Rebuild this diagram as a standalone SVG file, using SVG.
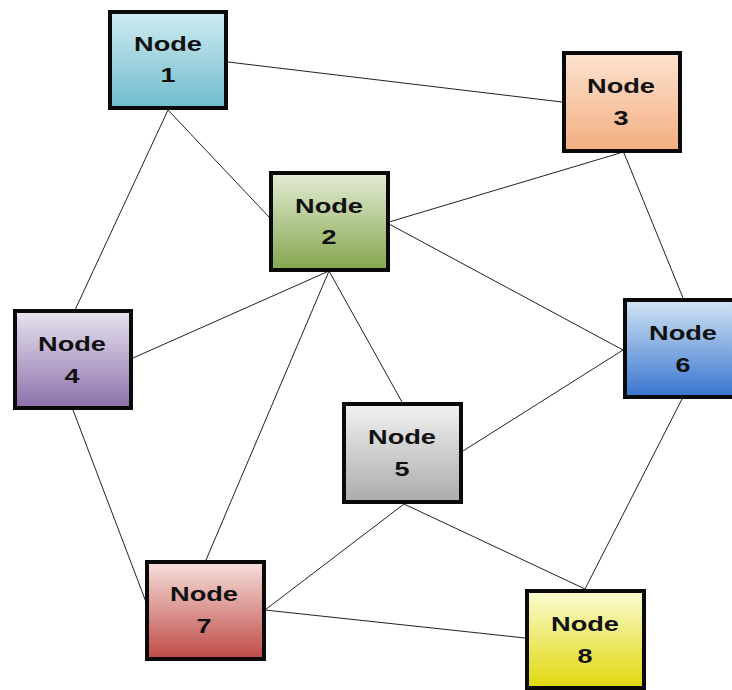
<svg xmlns="http://www.w3.org/2000/svg" width="732" height="690" viewBox="0 0 732 690">
<style>
.box{stroke:#0a0a0a;stroke-width:4}
.lbl{font-family:"Liberation Sans",Arial,sans-serif;font-weight:bold;font-size:21px;fill:#111;text-anchor:middle}
.edge line{stroke:#222;stroke-width:1}
</style>
<defs>
<linearGradient id="g1" x1="0" y1="0" x2="0" y2="1"><stop offset="0" stop-color="#d0ebf1"/><stop offset="1" stop-color="#6fbccd"/></linearGradient>
<linearGradient id="g2" x1="0" y1="0" x2="0" y2="1"><stop offset="0" stop-color="#e4ecd6"/><stop offset="1" stop-color="#84a64c"/></linearGradient>
<linearGradient id="g3" x1="0" y1="0" x2="0" y2="1"><stop offset="0" stop-color="#fde3d0"/><stop offset="1" stop-color="#f3ae80"/></linearGradient>
<linearGradient id="g4" x1="0" y1="0" x2="0" y2="1"><stop offset="0" stop-color="#e8e3f0"/><stop offset="1" stop-color="#8c70aa"/></linearGradient>
<linearGradient id="g5" x1="0" y1="0" x2="0" y2="1"><stop offset="0" stop-color="#f2f2f2"/><stop offset="1" stop-color="#ababab"/></linearGradient>
<linearGradient id="g6" x1="0" y1="0" x2="0" y2="1"><stop offset="0" stop-color="#d2e5f4"/><stop offset="1" stop-color="#3874cf"/></linearGradient>
<linearGradient id="g7" x1="0" y1="0" x2="0" y2="1"><stop offset="0" stop-color="#f6e0dc"/><stop offset="1" stop-color="#bf4a46"/></linearGradient>
<linearGradient id="g8" x1="0" y1="0" x2="0" y2="1"><stop offset="0" stop-color="#fbfbd2"/><stop offset="1" stop-color="#e0d80c"/></linearGradient>
</defs>
<rect width="732" height="690" fill="#fff"/>
<g id="edges" class="edge">
<line x1="228" y1="62" x2="562" y2="102"/>
<line x1="168" y1="110" x2="75" y2="310"/>
<line x1="168" y1="110" x2="270" y2="218"/>
<line x1="620" y1="153" x2="389" y2="222"/>
<line x1="624" y1="153" x2="683" y2="298"/>
<line x1="389" y1="224" x2="623" y2="350"/>
<line x1="329" y1="271" x2="133" y2="358"/>
<line x1="329" y1="271" x2="206" y2="560"/>
<line x1="329" y1="271" x2="402" y2="402"/>
<line x1="623" y1="350" x2="463" y2="451"/>
<line x1="682" y1="399" x2="585" y2="589"/>
<line x1="404" y1="504" x2="265" y2="610"/>
<line x1="404" y1="504" x2="585" y2="589"/>
<line x1="265" y1="610" x2="525" y2="638"/>
<line x1="73" y1="410" x2="146" y2="602"/>
</g>
<g id="node1"><rect class="box" x="110" y="12" width="116" height="96" fill="url(#g1)"/><text class="lbl" x="168" y="51" textLength="68" lengthAdjust="spacingAndGlyphs">Node</text><text class="lbl" x="168" y="82" textLength="15" lengthAdjust="spacingAndGlyphs">1</text></g>
<g id="node2"><rect class="box" x="271" y="173" width="117" height="97" fill="url(#g2)"/><text class="lbl" x="329" y="213" textLength="68" lengthAdjust="spacingAndGlyphs">Node</text><text class="lbl" x="329" y="244" textLength="15" lengthAdjust="spacingAndGlyphs">2</text></g>
<g id="node3"><rect class="box" x="564" y="53" width="116" height="98" fill="url(#g3)"/><text class="lbl" x="621" y="93" textLength="68" lengthAdjust="spacingAndGlyphs">Node</text><text class="lbl" x="621" y="125" textLength="15" lengthAdjust="spacingAndGlyphs">3</text></g>
<g id="node4"><rect class="box" x="15" y="311" width="116" height="97" fill="url(#g4)"/><text class="lbl" x="72" y="351" textLength="68" lengthAdjust="spacingAndGlyphs">Node</text><text class="lbl" x="72" y="383" textLength="15" lengthAdjust="spacingAndGlyphs">4</text></g>
<g id="node5"><rect class="box" x="344" y="404" width="117" height="98" fill="url(#g5)"/><text class="lbl" x="402" y="444" textLength="68" lengthAdjust="spacingAndGlyphs">Node</text><text class="lbl" x="402" y="476" textLength="15" lengthAdjust="spacingAndGlyphs">5</text></g>
<g id="node6"><rect class="box" x="625" y="300" width="117" height="97" fill="url(#g6)"/><text class="lbl" x="683" y="340" textLength="68" lengthAdjust="spacingAndGlyphs">Node</text><text class="lbl" x="683" y="372" textLength="15" lengthAdjust="spacingAndGlyphs">6</text></g>
<g id="node7"><rect class="box" x="147" y="562" width="117" height="97" fill="url(#g7)"/><text class="lbl" x="204" y="601" textLength="68" lengthAdjust="spacingAndGlyphs">Node</text><text class="lbl" x="204" y="633" textLength="15" lengthAdjust="spacingAndGlyphs">7</text></g>
<g id="node8"><rect class="box" x="527" y="591" width="117" height="97" fill="url(#g8)"/><text class="lbl" x="585" y="631" textLength="68" lengthAdjust="spacingAndGlyphs">Node</text><text class="lbl" x="585" y="663" textLength="15" lengthAdjust="spacingAndGlyphs">8</text></g>
</svg>
